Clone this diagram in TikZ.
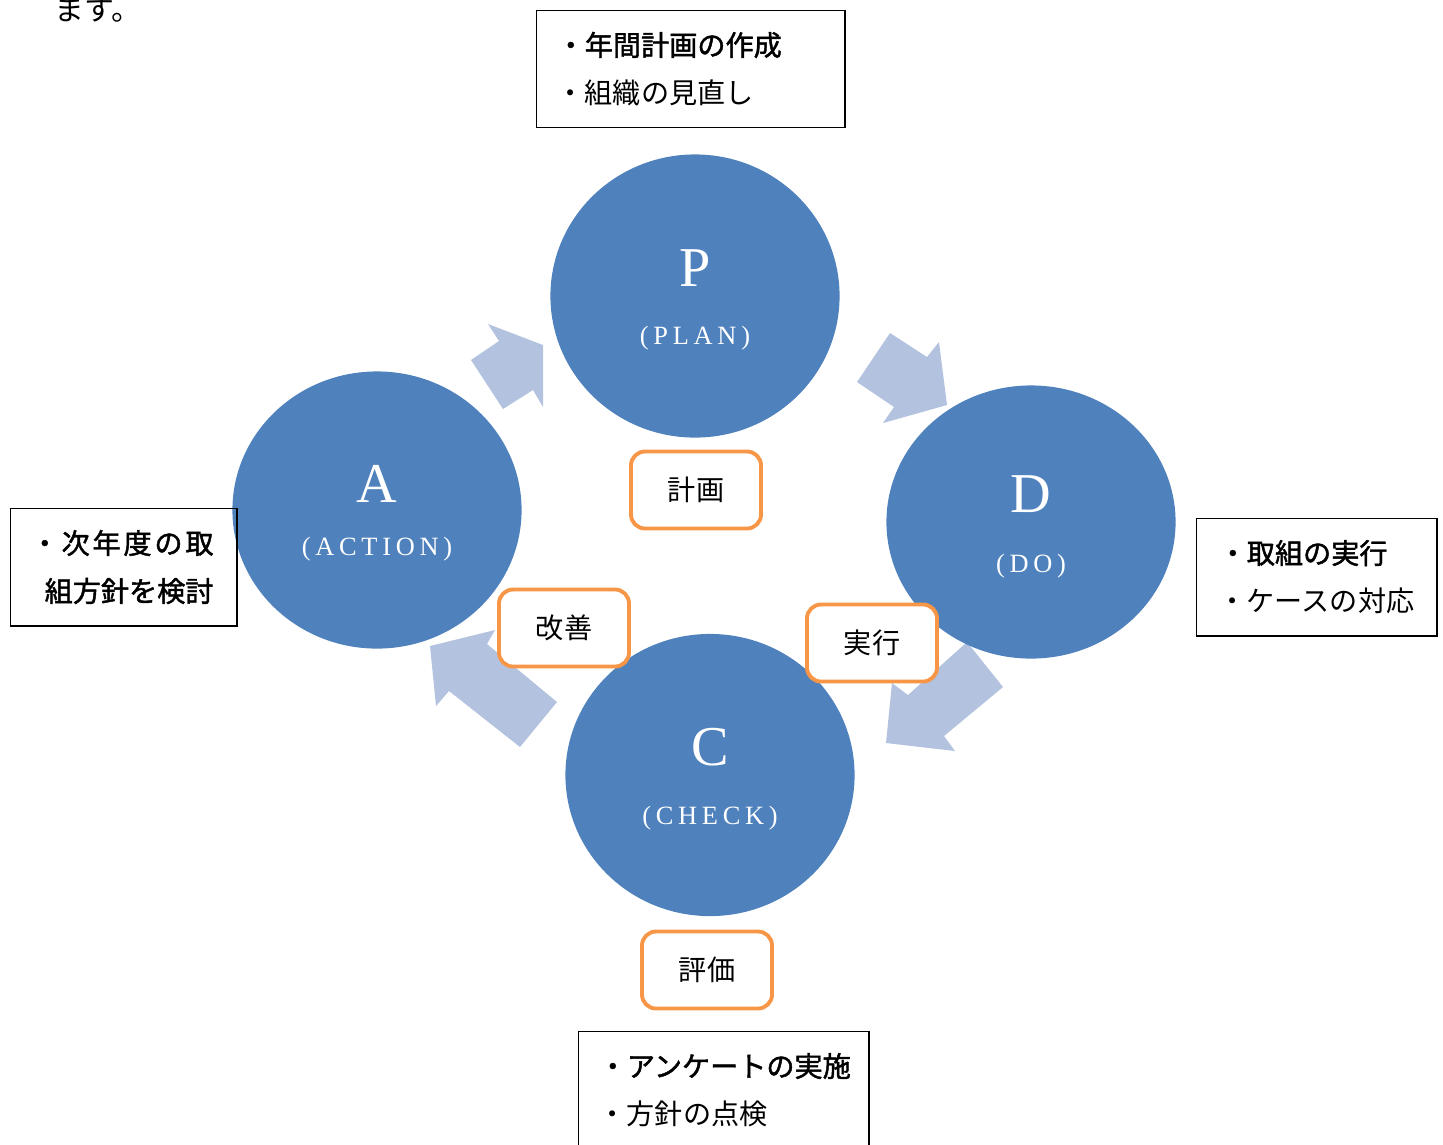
\documentclass[tikz,border=0pt]{standalone}
\usepackage{fontspec}
\setmainfont{Liberation Serif}
\newfontfamily\cjk{Noto Sans CJK JP}
\newfontfamily\cjkbold[FakeBold=1.6]{Noto Sans CJK JP}
\newfontfamily\spaced[LetterSpace=18]{Liberation Serif}
\usetikzlibrary{shapes.geometric}
\definecolor{pdcablue}{HTML}{4F81BD}
\definecolor{arrowblue}{HTML}{B3C3DF}
\definecolor{tagorange}{HTML}{F79646}

\begin{document}
\begin{tikzpicture}[x=0.01cm, y=-0.01cm,
  phase/.style={ellipse, fill=pdcablue, inner sep=0pt, minimum width=2.89cm},
  tag/.style={draw=tagorange, line width=1.1pt, rounded corners=4pt, fill=white,
    minimum width=1.3cm, minimum height=0.77cm, font=\cjk\fontsize{8}{10}\selectfont},
  memo/.style={draw=black, line width=0.4pt, inner sep=0pt, anchor=north west},
  flow/.style={fill=arrowblue},
  letter/.style={text=white, font=\fontsize{16}{18}\selectfont},
  word/.style={text=white, font=\spaced\fontsize{7.5}{9}\selectfont},
  memoline/.style={anchor=west, inner sep=0pt, font=\cjk\fontsize{8}{10}\selectfont},
  memohead/.style={memoline, font=\cjkbold\fontsize{8}{10}\selectfont}]

\useasboundingbox (0,0) rectangle (1443,1144);

\node[anchor=base west, inner sep=0pt, font=\cjk\fontsize{8.5}{10}\selectfont] (prev) at (54,20) {ます。};

% block arrows
\fill[flow] (488,324) -- (543,345) -- (543,407) -- (533,390) -- (503,409) -- (471,360) -- (499,341) -- cycle;
\fill[flow] (890,333) -- (927,357) -- (939,342) -- (947,405) -- (883,423) -- (894,407) -- (857,382) -- cycle;
\fill[flow] (967,642) -- (1003,687) -- (944,736) -- (955,751) -- (886,743) -- (892,683) -- (908,695) -- cycle;
\fill[flow] (430,646) -- (495,630) -- (487,644) -- (557,702) -- (520,747) -- (449,691) -- (436,706) -- cycle;

% phases
\node[phase, minimum height=2.83cm] (plan) at (695,296) {};
\node[phase, minimum height=2.77cm] (act) at (377,510) {};
\node[phase, minimum height=2.73cm] (do) at (1031,522) {};
\node[phase, minimum height=2.82cm] (check) at (710,775) {};

\node[letter] (planP) at (695,268) {P};
\node[word] (planW) at (695,338) {(PLAN)};
\node[letter] (actA) at (377,484) {A};
\node[word] (actW) at (377,549) {(ACTION)};
\node[letter] (doD) at (1031,494) {D};
\node[word] (doW) at (1031,566) {(DO)};
\node[letter] (checkC) at (710,747) {C};
\node[word] (checkW) at (710,818) {(CHECK)};

% tags
\node[tag] (plantag) at (696,490) {計画};
\node[tag] (acttag) at (564,628) {改善};
\node[tag] (dotag) at (872,643) {実行};
\node[tag] (checktag) at (707,970) {評価};

% memos
\node[memo, minimum width=3.08cm, minimum height=1.17cm] (planmemo) at (536,10) {};
\node[memohead] (plan1) at (556,45) {・年間計画の作成};
\node[memoline] (plan2) at (556,93) {・組織の見直し};

\node[memo, minimum width=2.26cm, minimum height=1.17cm] (actmemo) at (10,508) {};
\node[memohead] (act1) at (30,543) {\addfontfeatures{LetterSpace=10}・次年度の取};
\node[memohead] (act2) at (44,591) {組方針を検討};

\node[memo, minimum width=2.40cm, minimum height=1.17cm] (domemo) at (1196,518) {};
\node[memohead] (do1) at (1218,553) {・取組の実行};
\node[memoline] (do2) at (1218,601) {・ケースの対応};

\node[memo, minimum width=2.90cm, minimum height=1.40cm] (checkmemo) at (578,1031) {};
\node[memohead] (check1) at (598,1066) {・アンケートの実施};
\node[memoline] (check2) at (598,1114) {・方針の点検};

\end{tikzpicture}
\end{document}
